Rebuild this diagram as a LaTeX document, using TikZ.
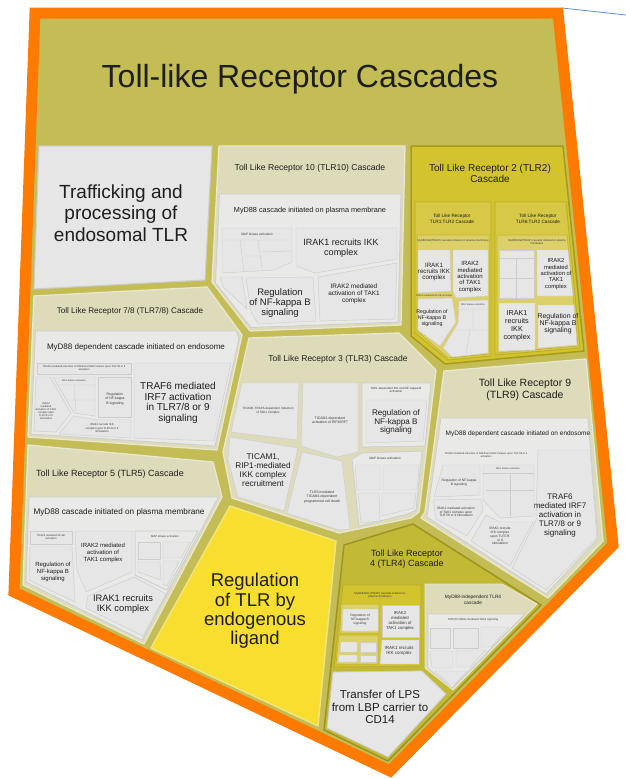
\documentclass[tikz,border=0pt]{standalone}
\usepackage{fontspec}
\setmainfont{Liberation Sans}
\definecolor{orng}{HTML}{FF7A00}
\definecolor{olv}{HTML}{C4BD55}
\definecolor{bge}{HTML}{DEDBBA}
\definecolor{bgeedge}{HTML}{E9E7CF}
\definecolor{gry}{HTML}{E6E6E6}
\definecolor{gryb}{HTML}{E9E9E7}
\definecolor{gryedge}{HTML}{CDCDCD}
\definecolor{ytwo}{HTML}{D3C32C}
\definecolor{ytwoedge}{HTML}{A69B1C}
\definecolor{ytwosub}{HTML}{D7C946}
\definecolor{ytwosubedge}{HTML}{BCAE2A}
\definecolor{ytwoin}{HTML}{DCD06A}
\definecolor{yfour}{HTML}{C2B935}
\definecolor{yfouredge}{HTML}{9D9421}
\definecolor{ylw}{HTML}{F8DE2E}
\definecolor{ylwedge}{HTML}{F2E47C}
\definecolor{txt}{HTML}{1E1E1E}
\definecolor{txts}{HTML}{3A3A3A}
\definecolor{blueln}{HTML}{5B8DD6}
\newcommand\fsz[2]{\fontsize{#1}{#2}\selectfont}
\tikzset{
 bcell/.style={fill=bge, draw=bgeedge, line width=1.3pt, line join=round},
 gcell/.style={fill=gry, draw=gryedge, line width=0.8pt, line join=round},
 gbox/.style={fill=gryb, draw=gryedge, line width=0.8pt, line join=round},
 scell/.style={fill=gry, draw=gryedge, line width=0.45pt, line join=round},
 ytcell/.style={fill=ytwo, draw=ytwoedge, line width=1.5pt, line join=round},
 ytsub/.style={fill=ytwosub, draw=ytwosubedge, line width=0.9pt, line join=round},
 ytin/.style={fill=ytwoin, draw=ytwosubedge, line width=0.5pt, line join=round},
 yfcell/.style={fill=yfour, draw=yfouredge, line width=1.5pt, line join=round},
 ylcell/.style={fill=ylw, draw=ylwedge, line width=1.5pt, line join=round},
 lbl/.style={inner sep=0pt, align=center, text=txt},
 tlbl/.style={inner sep=0pt, align=center, text=txts},
}
\begin{document}
\begin{tikzpicture}[x=1pt,y=-1pt]
\useasboundingbox (0,0) rectangle (626,779);
% thin blue line and orange frame
\draw[blueln, line width=0.8pt] (562,8) -- (626,15);
\draw[orng, line width=11pt, line join=miter, fill=olv] (35,13) -- (558,13) -- (613,545) -- (390,771) -- (14,592) -- cycle;
\node[lbl, font=\fsz{32}{36}, anchor=base] (title) at (300,87) {Toll-like Receptor Cascades};

% ---------- Trafficking ----------
\draw[gcell, line width=1.1pt] (39,146) -- (212,146) -- (205,280) -- (34,289) -- cycle;
\node[lbl, font=\fsz{19}{21.5}] (traf) at (121,213) {Trafficking and\\processing of\\endosomal TLR};

% ---------- TLR10 ----------
\draw[bcell] (219,146) -- (405,146) -- (401,325) -- (250,331) -- (212,282) -- cycle;
\node[lbl, font=\fsz{8.6}{10}] (t10) at (310,168) {Toll Like Receptor 10 (TLR10) Cascade};
\draw[gbox] (219.5,194) -- (401,194) -- (398,322) -- (251,327.5) -- (215.5,283) -- cycle;
\node[lbl, font=\fsz{7.3}{8.5}] (t10m) at (310,211) {MyD88 cascade initiated on plasma membrane};
\draw[scell] (222,228) -- (292,228) -- (292,262) -- (274,270) -- (222,273) -- cycle;
\draw[gryedge, line width=0.4pt] (222,240) -- (292,240) (240,240) -- (244,272) (258,240) -- (262,268) (262,252) -- (292,251) (244,256) -- (261,256);
\node[tlbl, font=\fsz{3.2}{3.8}] (t10map) at (257,234) {MAP kinase activation};
\draw[scell] (220,277) -- (242,277) -- (247,309) -- (224,288) -- cycle;
\draw[scell] (246,278) -- (313,277) -- (316,321) -- (258,324) -- (251,312) -- cycle;
\node[lbl, font=\fsz{9.5}{9.8}] (t10r) at (280,303) {Regulation\\of NF-kappa B\\signaling};
\draw[scell] (296,228) -- (397,228) -- (397,259) -- (315,273) -- (296,266) -- cycle;
\node[lbl, font=\fsz{9}{10.3}] (t10i1) at (341,248) {IRAK1 recruits IKK\\complex};
\draw[scell] (318,277) -- (397,263) -- (395,319) -- (320,321) -- cycle;
\node[lbl, font=\fsz{6.4}{7.2}] (t10i2) at (354,294) {IRAK2 mediated\\activation of TAK1\\complex};

% ---------- TLR2 ----------
\draw[ytcell] (411,146) -- (563,146) -- (584,351) -- (445,364) -- (411,336) -- cycle;
\node[lbl, font=\fsz{10}{11}] (t2) at (490,173) {Toll Like Receptor 2 (TLR2)\\Cascade};
% TLR1:TLR2
\draw[ytsub] (415,202) -- (491,202) -- (491,356) -- (448,360) -- (415,333) -- cycle;
\node[lbl, font=\fsz{4.7}{5.6}] (t12) at (452,219) {Toll Like Receptor\\TLR1:TLR2 Cascade};
\draw[ytin] (417,235) -- (489,235) -- (489,354) -- (448,358) -- (417,331) -- cycle;
\node[tlbl, font=\fsz{2.7}{3.2}] (t12m) at (453,241) {MyD88:Mal(TIRAP) cascade initiated on plasma membrane};
\draw[scell] (418,250) -- (450,250) -- (451,291) -- (418,293) -- cycle;
\node[lbl, font=\fsz{6.2}{6.4}] (t12i1) at (434,272) {IRAK1\\recruits IKK\\complex};
\draw[scell] (453,250) -- (488,250) -- (488,296) -- (456,298) -- (453,292) -- cycle;
\node[lbl, font=\fsz{6}{6.4}] (t12i2) at (470,277) {IRAK2\\mediated\\activation\\of TAK1\\complex};
\draw[scell] (418,299) -- (452,298) -- (456,322) -- (440,346) -- (418,330) -- cycle;
\node[lbl, font=\fsz{5.3}{6}] (t12r) at (432,318) {Regulation of\\NF-kappa B\\signaling};
\node[tlbl, font=\fsz{2.4}{3}] (t12t) at (434,296) {TRAF6 mediated NF-kB activation};
\draw[scell] (459,301) -- (488,300) -- (488,353) -- (452,357) -- (443,348) -- (458,323) -- cycle;
\draw[gryedge, line width=0.35pt] (459,309) -- (488,309) (473,309) -- (473,330) (458,330) -- (488,330) (470,330) -- (466,355);
\node[tlbl, font=\fsz{2.4}{3}] (t12map) at (473,305) {MAP kinase activation};
% TLR6:TLR2
\draw[ytsub] (495,202) -- (566,202) -- (580,348) -- (495,355) -- cycle;
\node[lbl, font=\fsz{4.7}{5.6}] (t62) at (538,219) {Toll Like Receptor\\TLR6:TLR2 Cascade};
\draw[ytin] (497,235) -- (567,235) -- (578,346) -- (497,353) -- cycle;
\node[tlbl, font=\fsz{2.7}{3.2}] (t62m) at (537,242) {MyD88:Mal(TIRAP) cascade initiated on plasma\\membrane};
\draw[scell] (499,250) -- (534,250) -- (534,298) -- (499,298) -- cycle;
\draw[gryedge, line width=0.35pt] (499,258) -- (534,258) (516,258) -- (516,298) (499,278) -- (534,278);
\draw[scell] (537,250) -- (568,250) -- (573,296) -- (537,296) -- cycle;
\node[lbl, font=\fsz{5.8}{6.4}] (t62i2) at (556,274) {IRAK2\\mediated\\activation of\\TAK1\\complex};
\draw[scell] (499,303) -- (535,303) -- (535,350) -- (499,351) -- cycle;
\node[lbl, font=\fsz{7.2}{7.9}] (t62i1) at (517,326) {IRAK1\\recruits\\IKK\\complex};
\draw[scell] (538,305) -- (574,305) -- (577,345) -- (538,348) -- cycle;
\node[lbl, font=\fsz{6.9}{7}] (t62r) at (558,324) {Regulation of\\NF-kappa B\\signaling};

% ---------- TLR7/8 ----------
\draw[bcell] (34,296) -- (207,287) -- (242,335) -- (217,450) -- (28,437) -- cycle;
\node[lbl, font=\fsz{8.1}{9.5}] (t78) at (130,311) {Toll Like Receptor 7/8 (TLR7/8) Cascade};
\draw[gbox] (35.5,331) -- (236,331) -- (239,338) -- (215,446) -- (31,434) -- cycle;
\node[lbl, font=\fsz{8}{9.5}] (t78m) at (136,347) {MyD88 dependent cascade initiated on endosome};
\draw[scell] (134,363) -- (231,363) -- (214,441) -- (134,438) -- cycle;
\node[lbl, font=\fsz{10}{10.7}] (t78t) at (178,403) {TRAF6 mediated\\IRF7 activation\\in TLR7/8 or 9\\signaling};
\draw[scell] (37,363) -- (131,363) -- (131,374) -- (37,374) -- cycle;
\node[tlbl, font=\fsz{2.6}{3.1}] (t78h) at (84,368.5) {TRAF6 mediated induction of NFkB and MAP kinases upon TLR7/8 or 9\\activation};
\draw[scell] (36,377) -- (50,377) -- (71,413) -- (56,432) -- (34,431) -- cycle;
\node[tlbl, font=\fsz{2.6}{3.1}] (t78i2) at (46,411) {IRAK2\\mediated\\activation of TAK1\\complex upon\\TLR7/8 or 9\\stimulation};
\draw[scell] (53,377) -- (95,377) -- (95,416) -- (74,413) -- cycle;
\draw[gryedge, line width=0.35pt] (55,385) -- (95,385) (74,385) -- (76,412) (62,400) -- (95,400);
\node[tlbl, font=\fsz{2.4}{3}] (t78map) at (74,381) {MAP kinase activation};
\draw[scell] (98,377) -- (131,377) -- (131,417) -- (98,417) -- cycle;
\node[tlbl, font=\fsz{3.5}{4.2}] (t78r) at (115,399) {Regulation\\of NF-kappa\\B signaling};
\draw[scell] (74,416) -- (97,420) -- (131,420) -- (131,438) -- (59,434) -- cycle;
\node[tlbl, font=\fsz{2.8}{3.3}] (t78i1) at (102,428) {IRAK1 recruits IKK\\complex upon TLR7/8 or 9\\stimulation};

% ---------- TLR3 ----------
\draw[bcell] (249,338) -- (399,333) -- (436,370) -- (419,512) -- (411,518) -- (339,533) -- (232,498) -- (223,452) -- cycle;
\node[lbl, font=\fsz{8.5}{10}] (t3) at (338,359) {Toll Like Receptor 3 (TLR3) Cascade};
\draw[scell] (242,383) -- (299,383) -- (297,440) -- (231,432) -- cycle;
\node[tlbl, font=\fsz{3.1}{3.7}] (t3a) at (268,411) {TICAM1,TRAF6-dependent induction\\of TAK1 complex};
\draw[scell] (303,383) -- (358,383) -- (358,452) -- (337,457) -- (301,446) -- cycle;
\node[tlbl, font=\fsz{3.5}{4.2}] (t3b) at (330,420) {TICAM1-dependent\\activation of IRF3/IRF7};
\draw[gbox] (362,383) -- (431,383) -- (425,446) -- (362,447) -- cycle;
\node[tlbl, font=\fsz{3}{3.6}] (t3c) at (396,390) {TAK1-dependent IKK and NF-kappa-B\\activation};
\draw[scell] (366,400) -- (427,400) -- (423,441) -- (366,443) -- cycle;
\node[lbl, font=\fsz{8.1}{8.3}] (t3r) at (396,422) {Regulation of\\NF-kappa B\\signaling};
\draw[scell] (230,437) -- (298,448) -- (284,511) -- (238,497) -- (228,460) -- cycle;
\node[lbl, font=\fsz{8.3}{9}] (t3t) at (263,470) {TICAM1,\\RIP1-mediated\\IKK complex\\recruitment};
\draw[scell] (302,452) -- (342,461) -- (350,529) -- (339,530) -- (287,513) -- cycle;
\node[tlbl, font=\fsz{3.5}{4.2}] (t3d) at (322,497) {TLR3-mediated\\TICAM1-dependent\\programmed cell death};
\draw[gbox] (352,459) -- (362,453) -- (422,451) -- (416,510) -- (408,514) -- (359,526) -- cycle;
\node[tlbl, font=\fsz{3.2}{3.8}] (t3map) at (385,458) {MAP kinase activation};
\draw[scell] (355,465) -- (380,465) -- (380,490) -- (357,490) -- cycle;
\draw[scell] (383,465) -- (419,465) -- (417,490) -- (383,490) -- cycle;
\draw[scell] (358,493) -- (379,493) -- (380,521) -- (361,523) -- cycle;
\draw[scell] (382,493) -- (416,493) -- (414,508) -- (382,516) -- cycle;

% ---------- TLR9 ----------
\draw[bcell] (444,371) -- (586,359) -- (603,541) -- (548,598) -- (421,518) -- (425,512) -- cycle;
\node[lbl, font=\fsz{10.5}{11.5}] (t9) at (525,390) {Toll Like Receptor 9\\(TLR9) Cascade};
\draw[gbox] (441,418) -- (588,418) -- (598,539) -- (546,594) -- (427,517) -- (428,510) -- cycle;
\node[lbl, font=\fsz{6.5}{7.5}] (t9m) at (518,434) {MyD88 dependent cascade initiated on endosome};
\draw[scell] (538,450) -- (590,450) -- (597,538) -- (546,590) -- (512,568) -- (536,520) -- cycle;
\node[lbl, font=\fsz{8}{9}] (t9t) at (560,516) {TRAF6\\mediated IRF7\\activation in\\TLR7/8 or 9\\signaling};
\node[tlbl, font=\fsz{2.6}{3.1}] (t9h) at (486,455) {TRAF6 mediated induction of NFkB and MAP kinases upon TLR7/8 or 9\\activation};
\draw[scell] (443,465) -- (480,465) -- (480,495) -- (434,497) -- cycle;
\node[tlbl, font=\fsz{3.3}{3.9}] (t9r) at (459,483) {Regulation of NF-kappa\\B signaling};
\draw[scell] (483,465) -- (534,465) -- (534,516) -- (500,518) -- (483,500) -- cycle;
\draw[gryedge, line width=0.35pt] (483,473) -- (534,473) (510,473) -- (510,516) (486,490) -- (534,490);
\node[tlbl, font=\fsz{2.4}{3}] (t9map) at (508,469) {MAP kinase activation};
\draw[scell] (433,500) -- (481,499) -- (483,510) -- (467,536) -- (436,519) -- cycle;
\node[tlbl, font=\fsz{3.2}{3.8}] (t9i2) at (456,512) {IRAK2 mediated activation\\of TAK1 complex upon\\TLR7/8 or 9 stimulation};
\draw[scell] (486,515) -- (500,522) -- (533,522) -- (510,566) -- (471,541) -- cycle;
\node[tlbl, font=\fsz{3.3}{3.9}] (t9i1) at (500,536) {IRAK1 recruits\\IKK complex\\upon TLR7/8\\or 9\\stimulation};

% ---------- TLR5 ----------
\draw[bcell] (28,445) -- (213,462) -- (222,497) -- (144,644) -- (23,585) -- cycle;
\node[lbl, font=\fsz{9}{10.5}] (t5) at (110,474) {Toll Like Receptor 5 (TLR5) Cascade};
\draw[gbox] (29,497) -- (218.5,497) -- (142,640) -- (26,582) -- cycle;
\node[lbl, font=\fsz{8.2}{9.5}] (t5m) at (119,512) {MyD88 cascade initiated on plasma membrane};
\draw[scell] (30,531) -- (72,531) -- (72,544) -- (30,544) -- cycle;
\node[tlbl, font=\fsz{2.6}{3.1}] (t5t) at (51,537.5) {TRAF6 mediated NF-kB\\activation};
\draw[scell] (30,547) -- (72,547) -- (75,602) -- (29,580) -- cycle;
\node[lbl, font=\fsz{6}{7}] (t5r) at (53,572) {Regulation of\\NF-kappa B\\signaling};
\draw[scell] (75,531) -- (132,531) -- (132,572) -- (86,592) -- (77,570) -- cycle;
\node[lbl, font=\fsz{6}{6.8}] (t5i2) at (103,553) {IRAK2 mediated\\activation of\\TAK1 complex};
\draw[gbox] (135,531) -- (198,531) -- (167,590) -- (135,575) -- cycle;
\node[tlbl, font=\fsz{2.8}{3.3}] (t5map) at (165,536) {MAP kinase activation};
\draw[scell] (138,542) -- (160,542) -- (160,559) -- (138,559) -- cycle;
\draw[scell] (163,542) -- (190,542) -- (181,558) -- (163,558) -- cycle;
\draw[scell] (138,562) -- (160,562) -- (161,580) -- (138,572) -- cycle;
\draw[scell] (163,561) -- (179,561) -- (167,586) -- (163,584) -- cycle;
\draw[scell] (88,596) -- (134,577) -- (166,594) -- (143,636) -- (86,608) -- cycle;
\node[lbl, font=\fsz{9.3}{10}] (t5i1) at (123,604) {IRAK1 recruits\\IKK complex};

% ---------- Regulation of TLR by endogenous ligand ----------
\draw[ylcell] (230,506) -- (336,541) -- (318,726) -- (151,648) -- cycle;
\node[lbl, font=\fsz{18.5}{19.3}] (reg) at (255,611) {Regulation\\of TLR by\\endogenous\\ligand};

% ---------- TLR4 ----------
\draw[yfcell] (344,545) -- (413,524) -- (541,605) -- (388,761) -- (324,730) -- cycle;
\node[lbl, font=\fsz{9}{10}] (t4) at (407,559) {Toll Like Receptor\\4 (TLR4) Cascade};
\draw[ytsub, fill=ytwo] (343,585) -- (421,585) -- (421,666) -- (334,667) -- cycle;
\node[tlbl, font=\fsz{2.8}{3.3}] (t4m) at (380,595) {MyD88:MAL(TIRAP) cascade initiated on\\plasma membrane};
\draw[ytin] (341,604) -- (379,604) -- (379,633) -- (340,633) -- cycle;
\draw[scell] (343,609) -- (378,609) -- (378,631) -- (342,631) -- cycle;
\node[tlbl, font=\fsz{3.3}{3.9}] (t4r) at (360,620) {Regulation of\\NF-kappa B\\signaling};
\draw[scell] (382,605) -- (419,605) -- (419,637) -- (382,637) -- cycle;
\node[tlbl, font=\fsz{4.3}{5}] (t4i2) at (400,621) {IRAK2\\mediated\\activation of\\TAK1 complex};
\draw[scell] (382,640) -- (419,640) -- (419,664) -- (380,664) -- cycle;
\node[tlbl, font=\fsz{4.5}{5.3}] (t4i1) at (399,651) {IRAK1 recruits\\IKK complex};
\draw[ytin] (339,635) -- (378,635) -- (378,664) -- (336,664) -- cycle;
\draw[scell] (341,642) -- (357,642) -- (357,652) -- (340,652) -- cycle;
\draw[scell] (360,642) -- (376,642) -- (376,652) -- (360,652) -- cycle;
\draw[scell] (339,655) -- (357,655) -- (357,662) -- (338,662) -- cycle;
\draw[scell] (360,655) -- (376,655) -- (376,662) -- (360,662) -- cycle;
\draw[bcell, line width=0.9pt] (425,584) -- (502,584) -- (537,604) -- (453,690) -- (425,668) -- cycle;
\node[lbl, font=\fsz{4.8}{5.6}] (t4n) at (473,600) {MyD88-independent TLR4\\cascade};
\draw[gbox] (428,614) -- (525,614) -- (452,688) -- (428,668) -- cycle;
\node[tlbl, font=\fsz{2.8}{3.3}] (t4tr) at (473,620) {TRIF(TICAM1)-mediated TLR4 signaling};
\draw[scell] (430,628) -- (450,628) -- (450,648) -- (430,648) -- cycle;
\draw[scell] (453,628) -- (478,628) -- (478,648) -- (453,648) -- cycle;
\draw[scell] (481,627) -- (509,627) -- (491,647) -- (481,647) -- cycle;
\draw[scell] (430,651) -- (453,651) -- (453,668) -- (432,668) -- cycle;
\draw[scell] (456,650) -- (486,650) -- (470,667) -- (456,667) -- cycle;
\draw[scell] (435,671) -- (467,671) -- (455,684) -- (449,684) -- cycle;
\draw[gcell] (333,672) -- (422,671) -- (446,694) -- (388,757) -- (327,728) -- cycle;
\node[lbl, font=\fsz{11.5}{12.5}] (t4l) at (380,707) {Transfer of LPS\\from LBP carrier to\\CD14};
\end{tikzpicture}
\end{document}
